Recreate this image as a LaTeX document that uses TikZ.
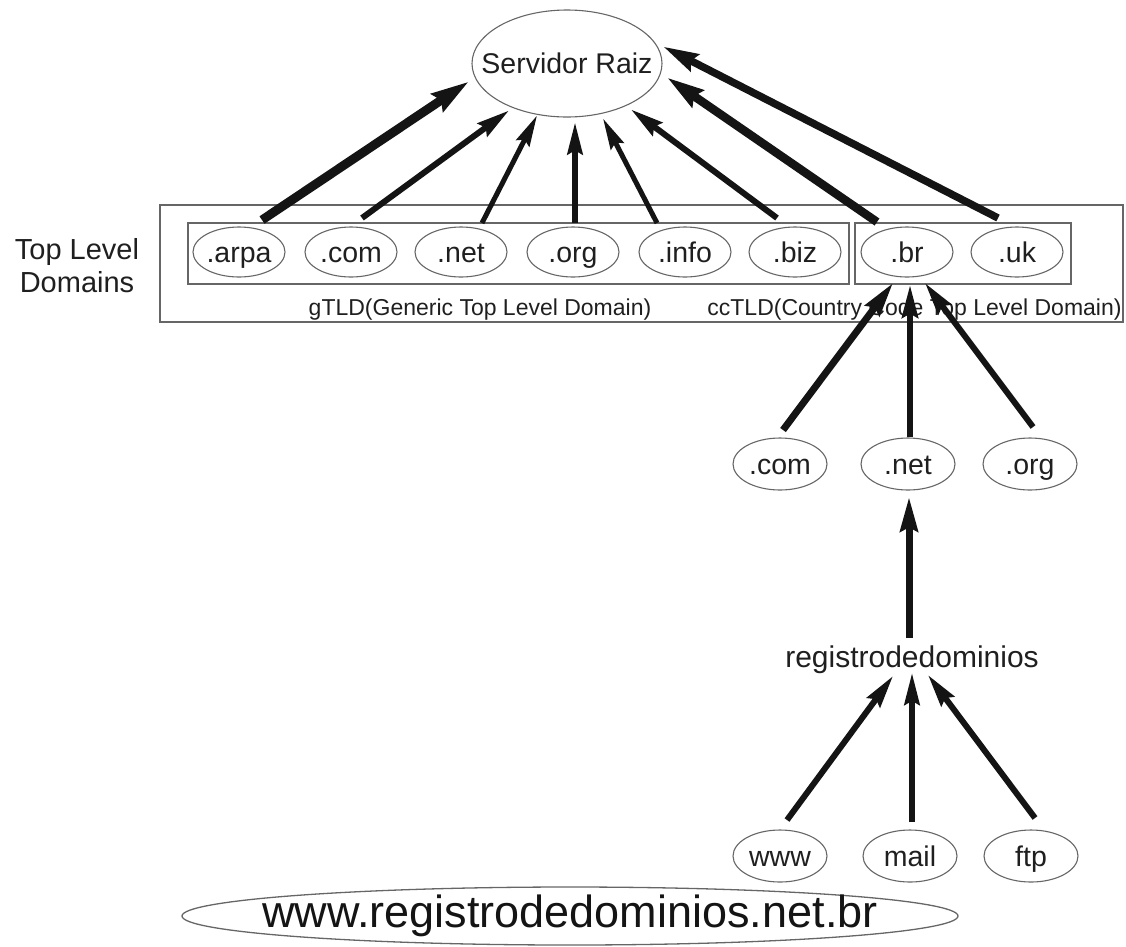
\documentclass[tikz,border=0pt]{standalone}
\usepackage{fontspec}
\setmainfont{Liberation Sans}
\usetikzlibrary{shapes.geometric,arrows.meta}
\begin{document}
\begin{tikzpicture}[x=1pt,y=-1pt,
  dom/.style={ellipse,draw=black!60,line width=1.1pt,inner sep=0pt,minimum width=92pt,minimum height=50pt},
  lbl/.style={font=\fontsize{28.5}{30}\selectfont,text=black!88,text height=20pt,text depth=0pt,inner sep=0pt},
  box/.style={draw=black!60,line width=1.3pt},
  small/.style={font=\fontsize{23}{25}\selectfont,text=black!88,inner sep=0pt,anchor=base},
  arr/.style={line width=#1,draw=black!92,-{Stealth[length=23pt 1.6,width=7pt 1.5,inset=4pt]}}
]
\useasboundingbox (0,0) rectangle (1126,946);
% boxes
\draw[box] (160,205) rectangle (1123,322);
\draw[box] (188,223) rectangle (849,284);
\draw[box] (855,223) rectangle (1071,284);
\node[small] (gtld) at (480,315) {gTLD(Generic Top Level Domain)};
\node[small] (cctld) at (914.5,315) {ccTLD(Country Code Top Level Domain)};
\node[align=center,font=\fontsize{29}{33}\selectfont,text=black!88,inner sep=0pt] (tld) at (77,266) {Top Level\\Domains};
% root
\node[dom,minimum width=190pt,minimum height=107pt,label={[lbl]center:Servidor Raiz}] (root) at (567,63.5) {};
% top level domains
\node[dom,label={[lbl]center:.arpa}] (arpa) at (239,252) {};
\node[dom,label={[lbl]center:.com}] (com) at (351,252) {};
\node[dom,label={[lbl]center:.net}] (net) at (461,252) {};
\node[dom,label={[lbl]center:.org}] (org) at (573,252) {};
\node[dom,label={[lbl]center:.info}] (info) at (685,252) {};
\node[dom,label={[lbl]center:.biz}] (biz) at (795,252) {};
\node[dom,label={[lbl]center:.br}] (br) at (907,252) {};
\node[dom,label={[lbl]center:.uk}] (uk) at (1017,252) {};
% second level
\node[dom,minimum width=94pt,minimum height=52pt,label={[lbl]center:.com}] (com2) at (780,464) {};
\node[dom,minimum width=94pt,minimum height=52pt,label={[lbl]center:.net}] (net2) at (908,464) {};
\node[dom,minimum width=94pt,minimum height=52pt,label={[lbl]center:.org}] (org2) at (1030,464) {};
\node[lbl,font=\fontsize{30}{32}\selectfont] (reg) at (912,657) {registrodedominios};
\node[dom,minimum width=94pt,minimum height=52pt,label={[lbl]center:www}] (www) at (780,856) {};
\node[dom,minimum width=94pt,minimum height=52pt,label={[lbl]center:mail}] (mail) at (910,856) {};
\node[dom,minimum width=94pt,minimum height=52pt,label={[lbl]center:ftp}] (ftp) at (1031,856) {};
\node[ellipse,draw=black!60,line width=1.3pt,minimum width=776pt,minimum height=58pt,inner sep=0pt,
  label={[font=\fontsize{45}{48}\selectfont,text=black!92,text height=22pt,text depth=0pt,inner sep=0pt]center:www.registrodedominios.net.br}] (site) at (570,916) {};
% arrows to root
\draw[arr=9pt] ([shift={(23,-32)}]arpa.center) -- ([shift={(-98,18)}]root.center);
\draw[arr=6pt] ([shift={(11,-34)}]com.center) -- ([shift={(-58,47)}]root.center);
\draw[arr=5pt] ([shift={(21,-29)}]net.center) -- ([shift={(-30,52)}]root.center);
\draw[arr=5.5pt] ([shift={(2,-29)}]org.center) -- ([shift={(8,59)}]root.center);
\draw[arr=5pt] ([shift={(-28,-29)}]info.center) -- ([shift={(36,55)}]root.center);
\draw[arr=6pt] ([shift={(-18,-34)}]biz.center) -- ([shift={(64,46)}]root.center);
\draw[arr=8.5pt] ([shift={(-30,-30)}]br.center) -- ([shift={(100,14)}]root.center);
\draw[arr=7.5pt] ([shift={(-19,-34)}]uk.center) -- ([shift={(96,-17)}]root.center);
% arrows to .br
\draw[arr=7pt] ([shift={(3,-34)}]com2.center) -- ([shift={(-14,31)}]br.center);
\draw[arr=6pt] ([shift={(2,-27)}]net2.center) -- ([shift={(3,33)}]br.center);
\draw[arr=6pt] ([shift={(3,-37)}]org2.center) -- ([shift={(18,31)}]br.center);
% registro to .net
\draw[arr=7pt] ([shift={(-3,-19)}]reg.center) -- ([shift={(1,33)}]net2.center);
% hosts to registro
\draw[arr=6pt] ([shift={(7,-36)}]www.center) -- ([shift={(-19,19)}]reg.center);
\draw[arr=5.5pt] ([shift={(2,-34)}]mail.center) -- ([shift={(0,16)}]reg.center);
\draw[arr=6pt] ([shift={(4,-38)}]ftp.center) -- ([shift={(16,18)}]reg.center);
\end{tikzpicture}
\end{document}
